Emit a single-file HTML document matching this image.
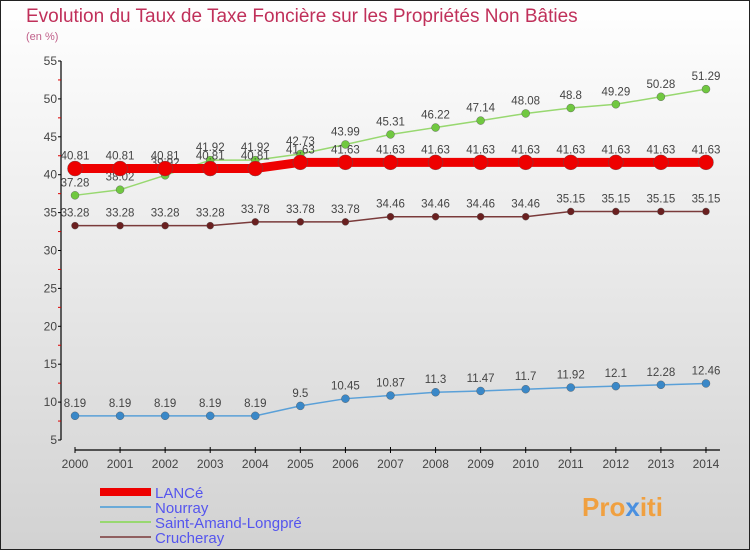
<!DOCTYPE html>
<html><head><meta charset="utf-8"><style>
html,body{margin:0;padding:0}
body{width:750px;height:550px;overflow:hidden;font-family:"Liberation Sans",sans-serif}
</style></head><body>
<svg width="750" height="550" xmlns="http://www.w3.org/2000/svg">
<defs><linearGradient id="bg" x1="0" y1="0" x2="0" y2="1"><stop offset="0" stop-color="#ffffff"/><stop offset="1" stop-color="#d2d2d2"/></linearGradient></defs>
<rect x="0.5" y="0.5" width="749" height="549" fill="url(#bg)" stroke="#222"/>
<text x="26" y="22" font-size="19" fill="#c0305a">Evolution du Taux de Taxe Foncière sur les Propriétés Non Bâties</text>
<text x="26" y="40" font-size="11" fill="#c0608a">(en %)</text>
<g id="axes"></g>
<g id="series"></g>
<g id="legend"></g>
<text x="582" y="516" font-size="26" font-weight="bold" fill="#f0a040">Pro<tspan fill="#4a90e0">x</tspan>iti</text>
</svg>
<script>
const years=[2000,2001,2002,2003,2004,2005,2006,2007,2008,2009,2010,2011,2012,2013,2014];
const lance=[40.81,40.81,40.81,40.81,40.81,41.63,41.63,41.63,41.63,41.63,41.63,41.63,41.63,41.63,41.63];
const nourray=[8.19,8.19,8.19,8.19,8.19,9.5,10.45,10.87,11.3,11.47,11.7,11.92,12.1,12.28,12.46];
const saint=[37.28,38.02,39.92,41.92,41.92,42.73,43.99,45.31,46.22,47.14,48.08,48.8,49.29,50.28,51.29];
const cruch=[33.28,33.28,33.28,33.28,33.78,33.78,33.78,34.46,34.46,34.46,34.46,35.15,35.15,35.15,35.15];
const yTicks=[5,10,15,20,25,30,35,40,45,50,55];
const NS="http://www.w3.org/2000/svg";
const X=i=>75+i*45.07;
const Y=v=>440-(v-5)*7.58;
function mk(t,a,p){const e=document.createElementNS(NS,t);for(const k in a)e.setAttribute(k,a[k]);(p||document.getElementById('series')).appendChild(e);return e;}
const ax=document.getElementById('axes');
let l=mk('line',{x1:61,y1:Y(55),x2:61,y2:Y(5),stroke:'#000','stroke-width':1.2},ax);

yTicks.forEach(v=>{
 let t=mk('line',{x1:58,y1:Y(v),x2:61,y2:Y(v),stroke:'#000'},ax);
 
 if(v<55){let m=mk('line',{x1:58,y1:Y(v+2.5),x2:61,y2:Y(v+2.5),stroke:'#d00'},ax);
 }
 let tx=mk('text',{x:57,y:Y(v)+4,'text-anchor':'end','font-size':12,fill:'#444'},ax);tx.textContent=v;
 
});
l=mk('line',{x1:X(0),y1:450,x2:X(14)+14,y2:450,stroke:'#000','stroke-width':1.2},ax);

years.forEach((y,i)=>{
 let t=mk('line',{x1:X(i),y1:447,x2:X(i),y2:453,stroke:'#000'},ax);
 
 let tx=mk('text',{x:X(i),y:468,'text-anchor':'middle','font-size':12,fill:'#444'},ax);tx.textContent=y;
 
});
function series(name,vals,color,w,r,dot){
 const g=mk('g',{});
 const pl=mk('polyline',{points:vals.map((v,i)=>X(i)+','+Y(v)).join(' '),fill:'none',stroke:color,'stroke-width':w},g);
 
 vals.forEach((v,i)=>{
  const c=mk('circle',{cx:X(i),cy:Y(v),r:r,fill:dot,stroke:'#555','stroke-width':0.4},g);
  
  const t=mk('text',{x:X(i),y:Y(v)-9,'text-anchor':'middle','font-size':11.5,fill:'#444'},g);t.textContent=v;
  
 });
}
series('nourray',nourray,'#5aa0d8',1.5,4,'#3a88c8');
series('cruchteray',cruch,'#7a3a3a',1.5,3.5,'#6a2020');
series('saint-amand',saint,'#98d870',1.5,4,'#70c840');
series('lance',lance,'#ee0000',9,7.5,'#ee0000');
const lg=document.getElementById('legend');
const leg=[['LANCé','#ee0000',8],['Nourray','#6aaad8',2],['Saint-Amand-Longpré','#98d870',2],['Crucheray','#906060',2]];
leg.forEach((d,i)=>{
 const y=492+i*15;
 const ln=mk('line',{x1:100,y1:y,x2:151,y2:y,stroke:d[1],'stroke-width':d[2]},lg);
 
 const t=mk('text',{x:155,y:y+6,'font-size':15,fill:'#5555ee'},lg);t.textContent=d[0];
 
});
</script>
</body></html>
